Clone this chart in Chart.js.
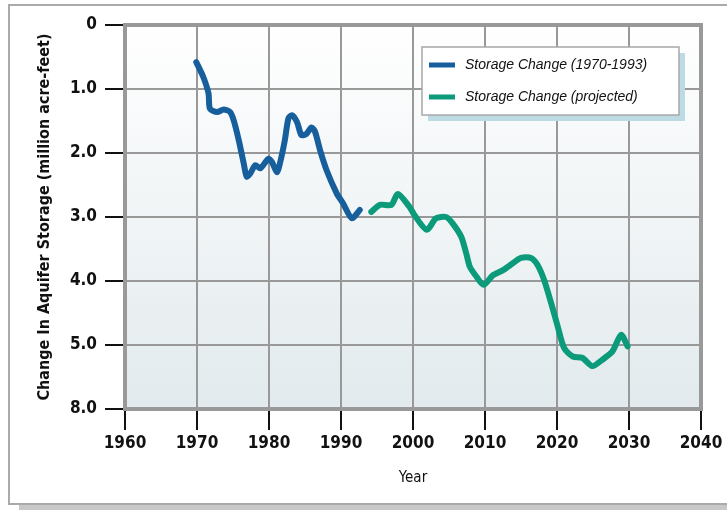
<!DOCTYPE html>
<html>
<head>
<meta charset="utf-8">
<script src="https://cdn.jsdelivr.net/npm/chart.js@4.4.1/dist/chart.umd.min.js"></script>
<style>
  body { margin: 0; background: #fff; }
  canvas { display: block; }
</style>
</head>
<body>
<canvas id="storageChart" width="727" height="510"></canvas>
<script>
// valores (ano, variação em milhões de acre-feet)
const histYears = [1969.9, 1970.9, 1971.6, 1971.8, 1972.8, 1973.7, 1974.6, 1975.1, 1975.8, 1976.5, 1976.9, 1977.4, 1978.1, 1978.8, 1979.9, 1980.4, 1981.1, 1981.5, 1982.2, 1982.7, 1983.2, 1983.9, 1984.5, 1985.2, 1985.9, 1986.4, 1987.1, 1988.0, 1989.4, 1990.3, 1991.5, 1992.6];
const histValues = [0.58, 0.82, 1.07, 1.31, 1.36, 1.32, 1.36, 1.49, 1.80, 2.17, 2.37, 2.32, 2.19, 2.24, 2.09, 2.14, 2.30, 2.17, 1.80, 1.46, 1.41, 1.52, 1.72, 1.70, 1.60, 1.67, 1.96, 2.27, 2.63, 2.79, 3.02, 2.89];

const projYears = [1994.2, 1995.4, 1997.0, 1997.9, 1999.5, 2000.2, 2001.9, 2003.2, 2004.6, 2005.5, 2006.7, 2007.4, 2007.9, 2008.8, 2009.8, 2011.1, 2012.5, 2013.9, 2015.0, 2016.4, 2017.3, 2018.2, 2019.2, 2020.1, 2021.0, 2022.2, 2023.5, 2024.9, 2026.3, 2027.7, 2028.9, 2029.8];
const projValues = [2.92, 2.81, 2.81, 2.64, 2.84, 2.97, 3.20, 3.02, 3.00, 3.10, 3.31, 3.57, 3.78, 3.93, 4.06, 3.91, 3.83, 3.72, 3.64, 3.64, 3.75, 3.98, 4.35, 4.71, 5.05, 5.18, 5.20, 5.33, 5.23, 5.10, 4.84, 5.02];

const yTickLabels = ['0', '1.0', '2.0', '3.0', '4.0', '5.0', '8.0'];
const seriesLabels = ['Storage Change (1970-1993)', 'Storage Change (projected)'];

const BLUE = '#175e9c';
const GREEN = '#0b9a7a';
const NARROW = '"Liberation Sans Narrow", "DejaVu Sans Condensed", "Arial Narrow", sans-serif';

function toPoints(xs, ys) {
    return xs.map((x, i) => ({ x: x, y: ys[i] }));
}

// fundo, moldura externa e gradiente da área do gráfico
const backgroundPlugin = {
    id: 'backgroundPlugin',
    beforeDraw(chart) {
        const ctx = chart.ctx;
        const a = chart.chartArea;
        ctx.save();
        ctx.fillStyle = '#c8c8c8';
        ctx.fillRect(19, 505, 720, 6);
        ctx.strokeStyle = '#aaaaaa';
        ctx.lineWidth = 2;
        ctx.strokeRect(9, 5, 740, 499);
        const grad = ctx.createLinearGradient(0, a.top, 0, a.bottom);
        grad.addColorStop(0, '#ffffff');
        grad.addColorStop(1, '#e2eaed');
        ctx.fillStyle = grad;
        ctx.fillRect(a.left, a.top, a.right - a.left, a.bottom - a.top);
        ctx.restore();
    },
    beforeDatasetsDraw(chart) {
        const ctx = chart.ctx;
        const a = chart.chartArea;
        ctx.save();
        ctx.strokeStyle = '#999999';
        ctx.lineWidth = 4;
        ctx.strokeRect(a.left, a.top, a.right - a.left, a.bottom - a.top);
        ctx.restore();
    }
};

// legenda desenhada dentro da área do gráfico
const legendBoxPlugin = {
    id: 'legendBoxPlugin',
    afterDraw(chart) {
        const ctx = chart.ctx;
        const x = 422, y = 47, w = 257, h = 68;
        ctx.save();
        ctx.fillStyle = '#bcdbe4';
        ctx.fillRect(x + 6, y + 6, w, h);
        ctx.fillStyle = '#ffffff';
        ctx.fillRect(x, y, w, h);
        ctx.strokeStyle = '#a8a8a8';
        ctx.lineWidth = 1.5;
        ctx.strokeRect(x, y, w, h);
        ctx.font = 'italic 14px "Liberation Sans", Arial, sans-serif';
        ctx.textBaseline = 'middle';
        chart.data.datasets.forEach((ds, i) => {
            const ly = y + 18 + i * 32;
            ctx.strokeStyle = ds.borderColor;
            ctx.lineWidth = 5;
            ctx.beginPath();
            ctx.moveTo(x + 7, ly);
            ctx.lineTo(x + 33, ly);
            ctx.stroke();
            ctx.fillStyle = '#111';
            ctx.fillText(ds.label, x + 43, ly);
        });
        ctx.restore();
    }
};

const ctx = document.getElementById('storageChart').getContext('2d');
new Chart(ctx, {
    type: 'line',
    data: {
        datasets: [
            {
                label: seriesLabels[0],
                data: toPoints(histYears, histValues),
                borderColor: BLUE,
                borderWidth: 6,
                pointRadius: 0,
                tension: 0.25,
                borderCapStyle: 'round'
            },
            {
                label: seriesLabels[1],
                data: toPoints(projYears, projValues),
                borderColor: GREEN,
                borderWidth: 6,
                pointRadius: 0,
                tension: 0.25,
                borderCapStyle: 'round'
            }
        ]
    },
    options: {
        responsive: false,
        animation: false,
        layout: { padding: { left: 10, top: 25, right: 26, bottom: 0 } },
        plugins: {
            legend: { display: false },
            tooltip: { enabled: false }
        },
        scales: {
            x: {
                type: 'linear',
                min: 1960,
                max: 2040,
                afterFit: (scale) => { scale.height = 101; },
                ticks: {
                    stepSize: 10,
                    padding: 3,
                    color: '#111',
                    font: { family: NARROW, size: 17, weight: 'bold' },
                    maxRotation: 0,
                    callback: (value) => String(value)
                },
                grid: {
                    color: '#999999',
                    lineWidth: 2,
                    tickColor: '#111',
                    tickLength: 21,
                    tickWidth: 2
                },
                border: { display: false },
                title: {
                    display: true,
                    text: 'Year',
                    color: '#111',
                    font: { family: NARROW, size: 15 },
                    padding: { top: 0, bottom: 23 }
                }
            },
            y: {
                type: 'linear',
                reverse: true,
                min: 0,
                max: 6,
                afterFit: (scale) => { scale.width = 115; },
                ticks: {
                    stepSize: 1,
                    padding: 8,
                    color: '#111',
                    font: { family: NARROW, size: 17, weight: 'bold' },
                    callback: (value) => yTickLabels[value]
                },
                grid: {
                    color: '#999999',
                    lineWidth: 2,
                    tickColor: '#111',
                    tickLength: 20,
                    tickWidth: 2
                },
                border: { display: false },
                title: {
                    display: true,
                    text: 'Change In Aquifer Storage (million acre-feet)',
                    color: '#111',
                    font: { family: NARROW, size: 16, weight: 'bold' },
                    padding: { top: 25, bottom: 0 }
                }
            }
        }
    },
    plugins: [backgroundPlugin, legendBoxPlugin]
});
</script>
</body>
</html>
